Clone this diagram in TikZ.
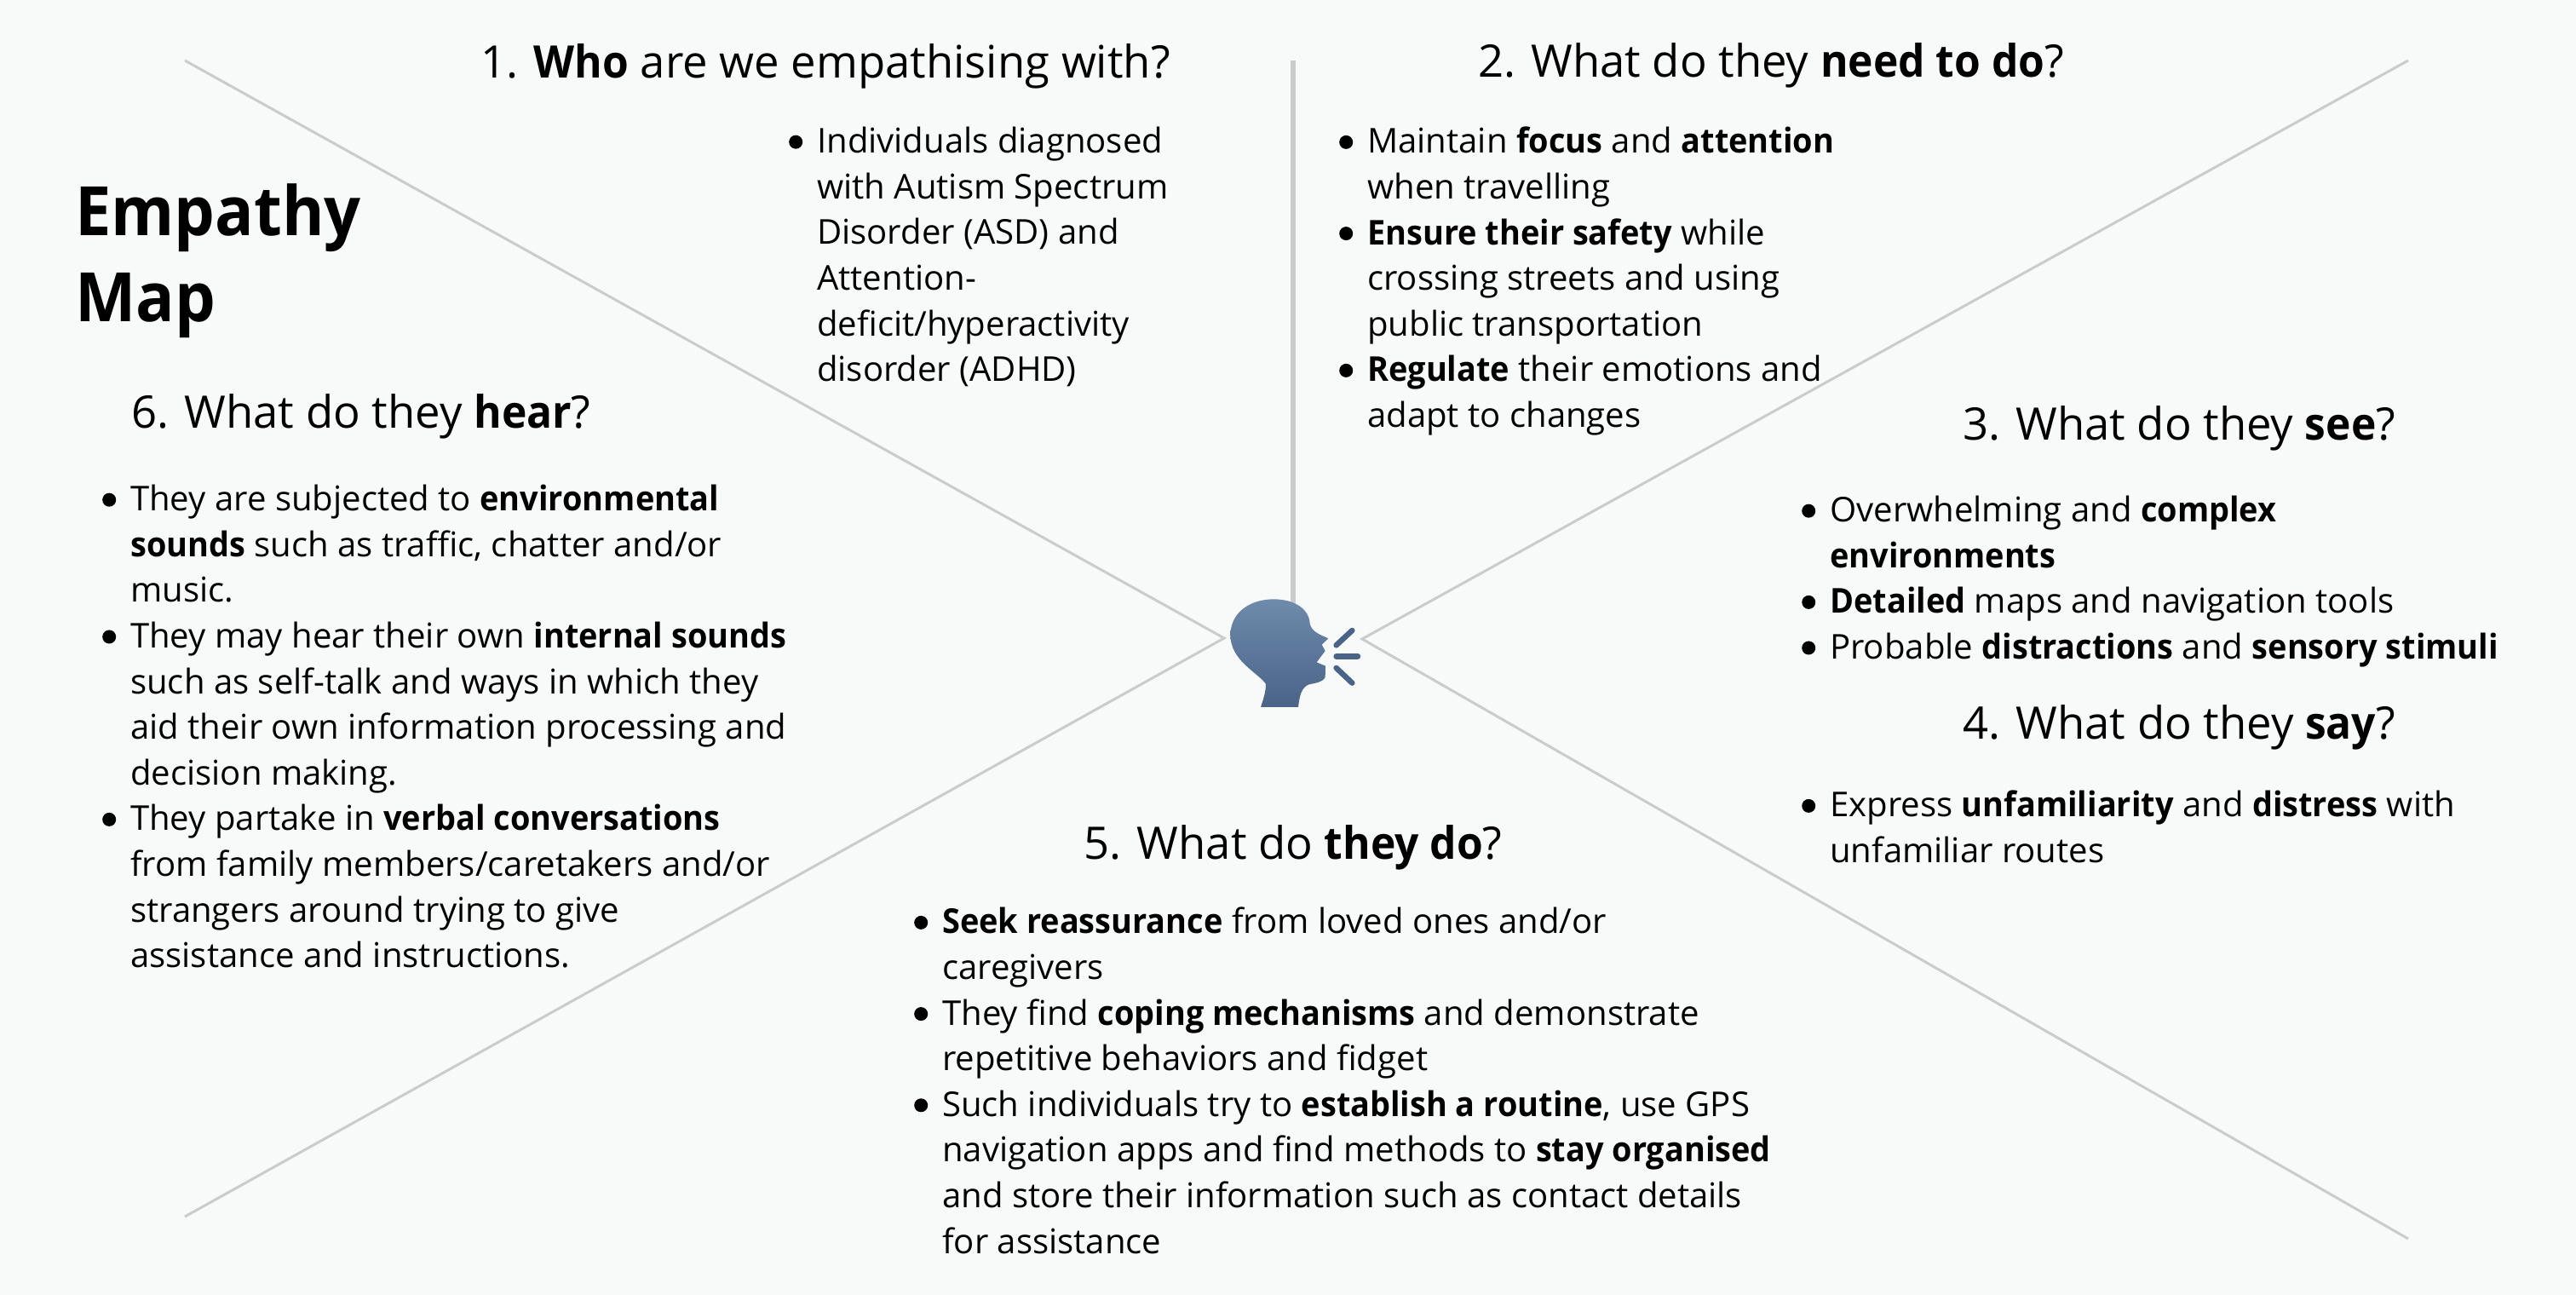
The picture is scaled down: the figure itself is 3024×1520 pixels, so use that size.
\documentclass[tikz,border=0pt]{standalone}
\usepackage{fontspec}
\setmainfont{Open Sans}[BoldFeatures={FakeStretch=0.945}]
\definecolor{bgc}{HTML}{F8FAF9}
\definecolor{linec}{HTML}{CACCCB}
\definecolor{headtop}{HTML}{6E8BAB}
\definecolor{headbot}{HTML}{4A6388}
\newcommand{\bitem}{\leavevmode\llap{\smash{\tikz[baseline=-13pt]\fill[black] (0,0) circle[radius=8pt];}\hspace{17pt}}}
\tikzset{
  listtext/.style={anchor=north west,inner sep=0pt,align=left,font=\fontsize{40.1}{53.6}\selectfont,text=black},
  headtext/.style={anchor=base,inner sep=0pt,font=\fontsize{52.6}{60}\selectfont,text=black},
  titletext/.style={anchor=north west,inner sep=0pt,align=left,font=\fontsize{80}{101}\selectfont\bfseries},
  thinline/.style={draw=linec,line width=3pt},
  thickline/.style={draw=linec,line width=6pt},
  ray/.style={draw=headbot,line width=6.5pt,line cap=round}
}
\begin{document}
\begin{tikzpicture}[x=1pt,y=-1pt]
\useasboundingbox (0,0) rectangle (3024,1520);
\fill[bgc] (0,0) rectangle (3024,1520);
\coordinate (apexL) at (1437,749);
\coordinate (apexR) at (1599,750);
\coordinate (tl) at (217,71);
\coordinate (bl) at (217,1428);
\coordinate (tr) at (2827,71);
\coordinate (br) at (2827,1454);
\coordinate (vtop) at (1518,71);
\coordinate (vbot) at (1518,710);
\draw[thinline] (tl) -- (apexL) -- (bl);
\draw[thinline] (tr) -- (apexR) -- (br);
\draw[thickline] (vtop) -- (vbot);
% speaking head
\begin{scope}[shift={(1380,660)},x=0.3333pt,y=-0.3333pt]
\shade[top color=headtop,middle color=headtop!80!headbot,bottom color=headbot]
 (300,510) .. controls (310,480) and (318,455) .. (318,428)
 .. controls (285,385) and (193,345) .. (193,255)
 .. controls (195,170) and (270,130) .. (345,130)
 .. controls (420,130) and (470,165) .. (473,215)
 .. controls (478,245) and (510,255) .. (538,268)
 -- (515,290) -- (527,312) -- (497,352) -- (528,365)
 -- (527,405) .. controls (515,425) and (490,425) .. (470,430)
 .. controls (445,440) and (437,465) .. (432,510) -- cycle;
\draw[ray] (566,292) -- (622,240);
\draw[ray] (566,331) -- (642,331);
\draw[ray] (566,372) -- (622,425);
\end{scope}
\node[titletext] (title) at (88,216) {Empathy\\Map};
\node[headtext] (h1) at (969,92) {1. \textbf{Who} are we empathising with?};
\node[headtext] (h2) at (2079,90) {2. What do they \textbf{need to do}?};
\node[headtext] (h3) at (2558,516) {3. What do they \textbf{see}?};
\node[headtext] (h4) at (2558,867) {4. What do they \textbf{say}?};
\node[headtext] (h5) at (1518,1008) {5. What do \textbf{they do}?};
\node[headtext] (h6) at (424,502) {6. What do they \textbf{hear}?};
\node[listtext] (l1) at (959,149) {\bitem Individuals diagnosed\\with Autism Spectrum\\Disorder (ASD) and\\Attention-\\deficit/hyperactivity\\disorder (ADHD)};
\node[listtext] (l2) at (1605,149) {\bitem Maintain \textbf{focus} and \textbf{attention}\\when travelling\\\bitem \textbf{Ensure their safety} while\\crossing streets and using\\public transportation\\\bitem \textbf{Regulate} their emotions and\\adapt to changes};
\node[listtext] (l3) at (2148,582) {\bitem Overwhelming and \textbf{complex}\\\textbf{environments}\\\bitem \textbf{Detailed} maps and navigation tools\\\bitem Probable \textbf{distractions} and \textbf{sensory stimuli}};
\node[listtext] (l4) at (2148,928) {\bitem Express \textbf{unfamiliarity} and \textbf{distress} with\\unfamiliar routes};
\node[listtext] (l5) at (1106,1065) {\bitem \textbf{Seek reassurance} from loved ones and/or\\caregivers\\\bitem They find \textbf{coping mechanisms} and demonstrate\\repetitive behaviors and fidget\\\bitem Such individuals try to \textbf{establish a routine}, use GPS\\navigation apps and find methods to \textbf{stay organised}\\and store their information such as contact details\\for assistance};
\node[listtext] (l6) at (153,569) {\bitem They are subjected to \textbf{environmental}\\\textbf{sounds} such as traffic, chatter and/or\\music.\\\bitem They may hear their own \textbf{internal sounds}\\such as self-talk and ways in which they\\aid their own information processing and\\decision making.\\\bitem They partake in \textbf{verbal conversations}\\from family members/caretakers and/or\\strangers around trying to give\\assistance and instructions.};
\end{tikzpicture}
\end{document}
